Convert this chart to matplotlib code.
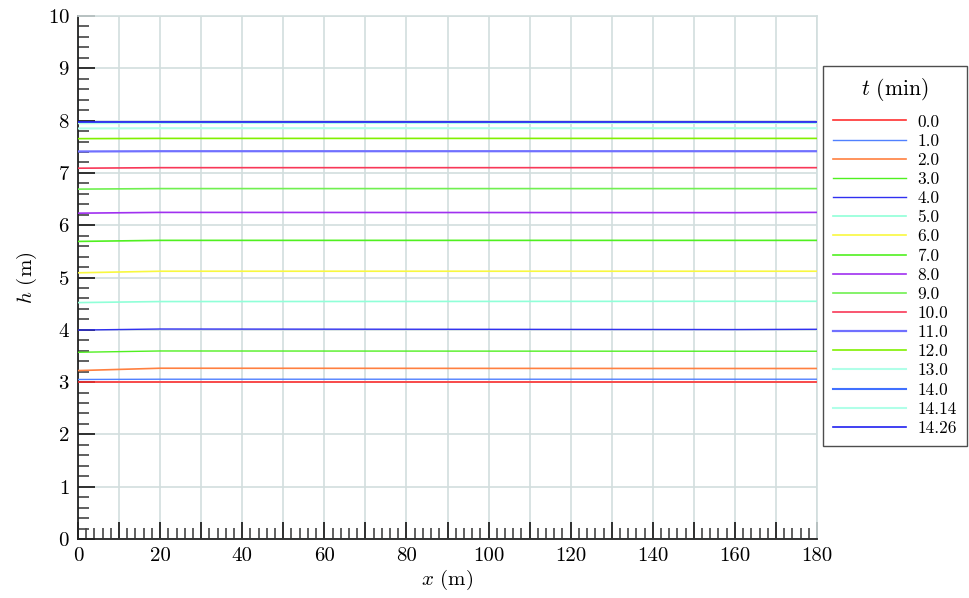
import matplotlib
matplotlib.use("Agg")
import matplotlib.pyplot as plt
from matplotlib.ticker import MultipleLocator

plt.rcParams["font.family"] = "serif"
plt.rcParams["font.serif"] = ["cmr10", "DejaVu Serif"]
plt.rcParams["mathtext.fontset"] = "cm"
plt.rcParams["axes.formatter.use_mathtext"] = True

# Sampling positions along the channel (m)
x_nodes = [0, 20, 160, 180]

# Times of each profile (min) and labels
times = ["0.0", "1.0", "2.0", "3.0", "4.0", "5.0", "6.0", "7.0", "8.0",
         "9.0", "10.0", "11.0", "12.0", "13.0", "14.0", "14.14", "14.26"]

# Water depth h (m) at each node, one list per time
h_t00 = [3.00, 3.00, 3.00, 3.00]
h_t01 = [3.05, 3.055, 3.055, 3.055]
h_t02 = [3.22, 3.265, 3.26, 3.26]
h_t03 = [3.57, 3.595, 3.59, 3.59]
h_t04 = [3.995, 4.015, 4.005, 4.01]
h_t05 = [4.52, 4.54, 4.545, 4.545]
h_t06 = [5.09, 5.12, 5.12, 5.12]
h_t07 = [5.69, 5.71, 5.71, 5.71]
h_t08 = [6.23, 6.245, 6.24, 6.245]
h_t09 = [6.69, 6.70, 6.70, 6.70]
h_t10 = [7.09, 7.10, 7.10, 7.10]
h_t11 = [7.41, 7.415, 7.415, 7.415]
h_t12 = [7.655, 7.66, 7.66, 7.66]
h_t13 = [7.85, 7.855, 7.855, 7.855]
h_t14 = [7.96, 7.965, 7.965, 7.965]
h_t1414 = [7.95, 7.955, 7.955, 7.955]
h_t1426 = [7.975, 7.975, 7.975, 7.975]

profiles = [h_t00, h_t01, h_t02, h_t03, h_t04, h_t05, h_t06, h_t07, h_t08,
            h_t09, h_t10, h_t11, h_t12, h_t13, h_t14, h_t1414, h_t1426]

colors = ["#ff3030", "#5080ff", "#ff8040", "#50f020", "#3030f0", "#90ffd8",
          "#f8f840", "#50f020", "#a030f0", "#70f050", "#f83858", "#7070ff",
          "#80f000", "#b0ffe8", "#4070ff", "#b0ffe8", "#2020f0"]
widths = [1.2, 1.0, 1.2, 1.0, 1.0, 1.2, 1.2, 1.2, 1.2, 1.2, 1.2, 1.6,
          1.2, 1.5, 1.5, 1.5, 1.2]

fig = plt.figure(figsize=(9.7, 5.98), dpi=100)
ax = fig.add_axes([0.0804, 0.0987, 0.7619, 0.8745])

grid_c = "#d2dede"
for (h, c, lw, lab) in zip(profiles, colors, widths, times):
    ax.plot(x_nodes, h, color=c, lw=lw, label=lab, zorder=3)

ax.set_xlim(0, 180)
ax.set_ylim(0, 10)
ax.xaxis.set_minor_locator(MultipleLocator(2))
ax.yaxis.set_major_locator(MultipleLocator(1))
ax.yaxis.set_minor_locator(MultipleLocator(0.2))
ax.set_xticks(range(0, 181, 10))
ax.set_xticklabels([str(v) if v % 20 == 0 else "" for v in range(0, 181, 10)])

ax.grid(True, which="major", color=grid_c, lw=1.2, zorder=0)
ax.tick_params(which="major", direction="in", length=12, width=1.3,
               color="#222222", labelsize=15, pad=6)
ax.tick_params(which="minor", direction="in", length=8, width=1.2,
               color="#444444")
ax.tick_params(top=False, right=False, which="both")

for side in ("top", "right"):
    ax.spines[side].set_color(grid_c)
    ax.spines[side].set_linewidth(1.2)
for side in ("left", "bottom"):
    ax.spines[side].set_color("#222222")
    ax.spines[side].set_linewidth(1.3)

ax.set_xlabel("$x$ (m)", fontsize=15, labelpad=2)
ax.set_ylabel("$h$ (m)", fontsize=15, labelpad=6)

leg = ax.legend(title="$t$ (min)", loc="upper left",
                bbox_to_anchor=(1.008, 0.905), fontsize=12.5,
                title_fontsize=15.5, frameon=True, fancybox=False,
                edgecolor="#222222", handlelength=4.2, handletextpad=0.63,
                labelspacing=0.22, borderpad=0.6, borderaxespad=0)
leg.get_frame().set_linewidth(1.0)
# a little more room between the title and the entries
leg._legend_box.sep = 8

fig.savefig("out.png", dpi=100)
